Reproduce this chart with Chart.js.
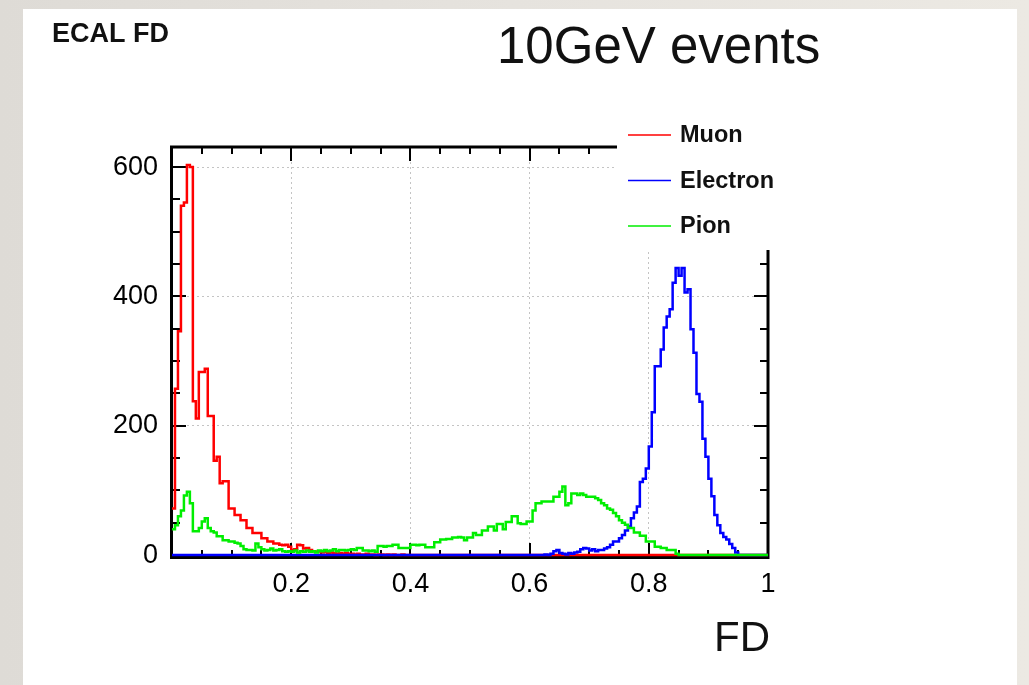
<!DOCTYPE html>
<html>
<head>
<meta charset="utf-8">
<script src="https://cdn.jsdelivr.net/npm/chart.js@4.4.1/dist/chart.umd.min.js"></script>
<style>
  html, body { margin: 0; padding: 0; }
  body { width: 1029px; height: 685px; overflow: hidden; position: relative;
         background: linear-gradient(90deg, #dedbd6 0%, #e6e3de 50%, #ece9e3 100%); }
  #panel { position: absolute; left: 23px; top: 9px; width: 994px; height: 676px; background: #ffffff; }
  #c { position: absolute; left: 0; top: 0; }
</style>
</head>
<body>
<div id="panel"></div>
<canvas id="c" width="1029" height="685"></canvas>
<script>
// ---------------- data (histogram contents, bin width 0.005 in FD) ----------------
const BIN_WIDTH = 0.005;
const seriesLabels = ['Muon', 'Electron', 'Pion'];
const seriesColors = ['#ff0000', '#0000ff', '#00ee00'];

const muon = [
  72,257,346,540,545,603,600,238,211,283, 283,288,215,215,146,152,111,114,114,72,
  72,62,62,54,54,42,42,34,34,34, 26,26,21,21,18,18,16,15,16,13,
  8,9,16,15,10,11,8,6,5,6, 4,5,3,4,3,2,3,2,3,2,
  2,1,2,1,1,2,1,1,0,1, 1,0,1,0,1,0,0,1,0,0,
  0,0,0,0,0,0,0,0,0,0, 0,0,0,0,0,0,0,0,0,0,
  0,0,0,0,0,0,0,0,0,0, 0,0,0,0,0,0,0,0,0,0,
  0,0,0,0,0,0,0,0,0,0, 0,0,0,0,0,0,0,0,0,0,
  0,0,0,0,0,0,0,0,0,0, 0,0,0,0,0,0,0,0,0,0,
  0,0,0,0,0,0,0,0,0,0, 0,0,0,0,0,0,0,0,0,0,
  0,0,0,0,0,0,0,0,0,0, 0,0,0,0,0,0,0,0,0,0
];

const electron = [
  0,0,0,0,0,0,0,0,0,0, 0,0,0,0,0,0,0,0,0,0,
  0,0,0,0,0,0,0,0,0,0, 0,0,0,0,0,0,0,0,0,0,
  0,0,0,0,0,0,0,0,0,0, 0,0,0,0,0,0,0,0,0,0,
  0,0,0,0,0,0,0,0,0,0, 0,0,0,0,0,0,0,0,0,0,
  0,0,0,0,0,0,0,0,0,0, 0,0,0,0,0,0,0,0,0,0,
  0,0,0,0,0,0,0,0,0,0, 0,0,0,0,0,0,0,0,0,0,
  0,0,0,0,0,1,0,2,6,8, 3,2,1,3,2,4,5,9,11,10,
  7,9,6,8,8,10,12,16,21,21, 26,31,38,44,57,66,75,113,118,134,
  168,221,292,292,318,352,369,380,421,444, 432,444,406,411,349,313,249,237,180,152,
  118,91,62,46,34,28,24,17,11,4, 0,0,0,0,0,0,0,0,0,0
];

const pion = [
  40,46,60,69,92,98,80,37,37,42, 52,57,42,37,35,29,29,23,23,21,
  21,19,18,14,9,8,8,7,18,12, 9,7,8,10,7,8,9,6,5,6,
  5,7,4,6,5,7,5,6,4,7, 6,8,6,7,9,6,8,8,7,8,
  9,8,11,11,7,7,6,7,5,14, 14,13,14,14,16,16,11,11,11,11,
  16,16,15,16,16,12,12,12,20,20, 24,24,25,25,27,27,28,27,23,27,
  27,34,31,31,38,38,44,44,38,48, 48,40,51,51,60,60,49,48,48,52,
  52,69,80,80,83,83,83,83,90,90, 98,106,77,80,95,95,93,95,93,90,
  90,90,88,85,80,77,72,70,65,60, 54,50,47,42,42,35,35,30,30,21,
  21,21,13,13,11,11,8,8,8,2, 0,0,0,0,0,0,0,0,0,0,
  0,0,0,0,0,0,0,0,0,0, 0,0,0,0,0,0,0,0,0,0
];

const xTickValues = [0, 0.2, 0.4, 0.6, 0.8, 1];
const xTickLabels = ['', '0.2', '0.4', '0.6', '0.8', '1'];
const yTickValues = [0, 200, 400, 600];
const yTickLabels = ['0', '200', '400', '600'];
const X_MINOR = 0.05;
const Y_MINOR = 50;
const Y_MIN = -3;
const Y_MAX = 631;

const titleText = 'ECAL FD';
const noteText = '10GeV events';
const xAxisTitle = 'FD';

// ---------------- build step points from bins ----------------
function toSteps(values) {
  const pts = values.map((v, i) => ({ x: i * BIN_WIDTH, y: v }));
  pts.push({ x: values.length * BIN_WIDTH, y: values[values.length - 1] });
  return pts;
}
const allSeries = [muon, electron, pion];

const FONT = "'Liberation Sans', Arial, Helvetica, sans-serif";

const rootStyle = {
  id: 'rootStyle',
  beforeDatasetsDraw(chart) {
    const ctx = chart.ctx;
    const { left, right, top, bottom } = chart.chartArea;
    const xs = chart.scales.x, ys = chart.scales.y;
    ctx.save();
    ctx.strokeStyle = '#000';
    ctx.lineCap = 'butt';
    const seg = (x1, y1, x2, y2) => { ctx.beginPath(); ctx.moveTo(x1, y1); ctx.lineTo(x2, y2); ctx.stroke(); };
    ctx.lineWidth = 2;
    const nY = Math.floor(Y_MAX / Y_MINOR);
    for (let k = 1; k <= nY; k++) {
      const v = k * Y_MINOR;
      const py = Math.round(ys.getPixelForValue(v));
      const major = yTickValues.includes(v);
      const len = major ? 14 : 8;
      seg(left, py, left + len, py);
      seg(right, py, right - len, py);
    }
    const nX = Math.round(1 / X_MINOR);
    for (let k = 0; k <= nX; k++) {
      const v = k * X_MINOR;
      const px = Math.round(xs.getPixelForValue(v));
      const major = (k % 4) === 0;
      const len = major ? 14 : 7;
      seg(px, bottom, px, bottom - len);
      seg(px, top, px, top + len);
    }
    ctx.lineWidth = 3;
    ctx.strokeRect(left - 0.5, top, right - left + 0.5, bottom - top + 0.5);
    ctx.restore();
  },
  afterDraw(chart) {
    const ctx = chart.ctx;
    ctx.save();
    // legend box (covers the frame corner, as in ROOT)
    ctx.fillStyle = '#ffffff';
    ctx.fillRect(617, 110, 200, 140);
    chart.data.datasets.forEach((ds, i) => {
      const y = 135 + i * 45.5;
      ctx.strokeStyle = ds.borderColor;
      ctx.lineWidth = 1.5;
      ctx.beginPath(); ctx.moveTo(628, y); ctx.lineTo(671, y); ctx.stroke();
      ctx.fillStyle = '#111';
      ctx.font = 'bold 23.5px ' + FONT;
      ctx.textBaseline = 'middle';
      ctx.textAlign = 'left';
      ctx.fillText(ds.label, 680, y + 1);
    });
    // texts
    ctx.fillStyle = '#111';
    ctx.textBaseline = 'alphabetic';
    ctx.font = 'bold 27px ' + FONT;
    ctx.fillText(titleText, 52, 42);
    ctx.font = '51px ' + FONT;
    ctx.fillText(noteText, 497, 63);
    ctx.font = '42px ' + FONT;
    ctx.textAlign = 'right';
    ctx.fillText(xAxisTitle, 770, 651);
    ctx.restore();
  }
};

new Chart(document.getElementById('c'), {
  type: 'line',
  data: {
    datasets: allSeries.map((vals, i) => ({
      label: seriesLabels[i],
      data: toSteps(vals),
      borderColor: seriesColors[i],
      backgroundColor: seriesColors[i],
      borderWidth: 2.5,
      pointRadius: 0,
      stepped: 'before',
      fill: false,
      order: 3 - i
    }))
  },
  options: {
    responsive: false,
    animation: false,
    devicePixelRatio: 1,
    layout: { padding: { left: 0, top: 147, right: 261, bottom: 68 } },
    plugins: { legend: { display: false }, tooltip: { enabled: false }, title: { display: false } },
    scales: {
      x: {
        type: 'linear', min: 0, max: 1,
        afterFit: (s) => { s.height = 60; },
        afterBuildTicks: (s) => { s.ticks = xTickValues.map(v => ({ value: v })); },
        ticks: {
          autoSkip: false, maxRotation: 0, padding: 11, color: '#000',
          font: { family: FONT, size: 27 },
          callback: (v, idx) => xTickLabels[idx]
        },
        grid: { color: '#c4c4c4', lineWidth: 1, drawTicks: false },
        border: { display: false, dash: [2, 3] }
      },
      y: {
        type: 'linear', min: Y_MIN, max: Y_MAX,
        afterFit: (s) => { s.width = 172; },
        afterBuildTicks: (s) => { s.ticks = yTickValues.map(v => ({ value: v })); },
        ticks: {
          padding: 14, color: '#000',
          font: { family: FONT, size: 27 },
          callback: (v, idx) => yTickLabels[idx]
        },
        grid: { color: '#c4c4c4', lineWidth: 1, drawTicks: false },
        border: { display: false, dash: [2, 3] }
      }
    }
  },
  plugins: [rootStyle]
});
</script>
</body>
</html>
